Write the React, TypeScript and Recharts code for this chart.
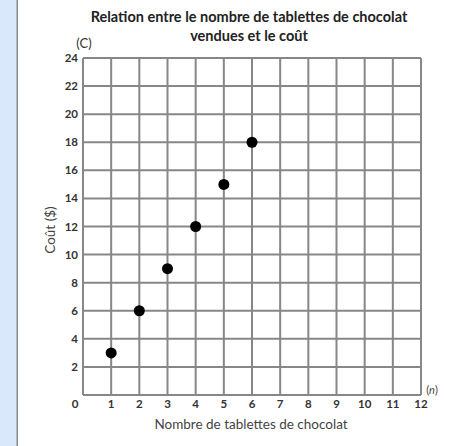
import { CartesianGrid, Scatter, ScatterChart, XAxis, YAxis } from "recharts";

const tablettes = [1, 2, 3, 4, 5, 6];
const couts = [3, 6, 9, 12, 15, 18];
const xTicks = [0, 1, 2, 3, 4, 5, 6, 7, 8, 9, 10, 11, 12];
const yTicks = [0, 2, 4, 6, 8, 10, 12, 14, 16, 18, 20, 22, 24];

const points = tablettes.map((n, i) => ({ n, c: couts[i] }));

const font = "Lato, 'Open Sans', sans-serif";
const gridColor = "#878787";
const tickStyle = { fontFamily: font, fontWeight: 700, fontSize: 11.5, fill: "#333" };

const XTick = (p: any) => {
  const v = p.payload.value;
  return (
    <text x={p.x + (v === 0 ? -8 : 0)} y={p.y} dy="0.71em" textAnchor="middle" {...tickStyle}>
      {v}
    </text>
  );
};

const Dot = (p: any) => <circle cx={p.cx} cy={p.cy} r={5.5} fill="#000" />;

export default function App() {
  return (
    <div style={{ position: "absolute", left: 0, top: 0, width: 458, height: 446, background: "#fff" }}>
      <ScatterChart width={458} height={446} margin={{ top: 58, right: 37, bottom: 21, left: 23 }}>
        <rect x={0} y={0} width={17} height={446} fill="#dae8fc" />
        <rect x={16.5} y={0} width={1.5} height={446} fill="#8a8a8a" />
        <CartesianGrid stroke={gridColor} strokeWidth={2} />
        <XAxis
          type="number"
          dataKey="n"
          domain={[0, 12]}
          ticks={xTicks}
          height={30}
          tickLine={false}
          tickSize={0}
          tickMargin={5}
          axisLine={{ stroke: gridColor, strokeWidth: 2 }}
          tick={XTick}
          interval={0}
        />
        <YAxis
          type="number"
          dataKey="c"
          domain={[0, 24]}
          ticks={yTicks}
          width={60}
          tickLine={false}
          tickSize={0}
          tickMargin={5}
          axisLine={{ stroke: gridColor, strokeWidth: 2 }}
          tick={tickStyle}
          tickFormatter={(v: number) => (v === 0 ? "" : String(v))}
          interval={0}
        />
        <Scatter data={points} shape={Dot} isAnimationActive={false} />
        <text x={249} y={22} textAnchor="middle" fontFamily={font} fontWeight={700} fontSize={14.5} fill="#222">
          Relation entre le nombre de tablettes de chocolat
        </text>
        <text x={249} y={41} textAnchor="middle" fontFamily={font} fontWeight={700} fontSize={14.5} fill="#222">
          vendues et le coût
        </text>
        <text x={84} y={48} textAnchor="middle" fontFamily={font} fontSize={13} fill="#333">
          (C)
        </text>
        <text
          x={50}
          y={230}
          transform="rotate(-90 50 230)"
          textAnchor="middle"
          dominantBaseline="central"
          fontFamily={font}
          fontSize={13.5}
          fill="#444"
        >
          Coût ($)
        </text>
        <text x={251} y={429} textAnchor="middle" fontFamily={font} fontSize={13.5} fill="#444">
          Nombre de tablettes de chocolat
        </text>
        <text x={432} y={394} textAnchor="middle" fontFamily={font} fontSize={11} fill="#444">
          (<tspan fontStyle="italic">n</tspan>)
        </text>
      </ScatterChart>
    </div>
  );
}
